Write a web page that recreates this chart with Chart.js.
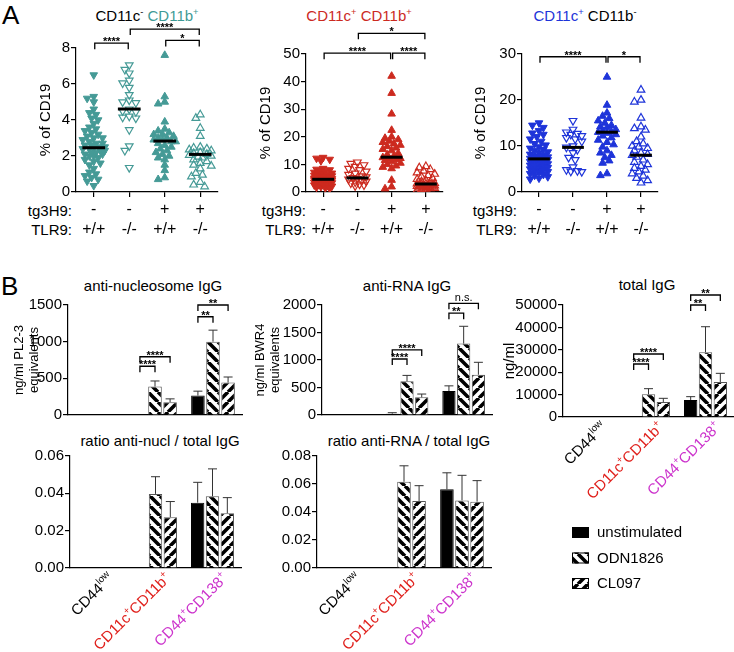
<!DOCTYPE html>
<html lang="en">
<head>
<meta charset="UTF-8">
<title>tg3H9 / TLR9 B cell subsets and IgG</title>
<script src="https://cdn.jsdelivr.net/npm/chart.js"></script>
<style>
  body { margin: 0; background: #fff; font-family: "Liberation Sans", Arial, sans-serif; color: #000; }
  #fig { position: relative; width: 734px; height: 652px; overflow: hidden; }
  .t { position: absolute; white-space: nowrap; line-height: 1; }
  .c { transform: translate(-50%, -50%); }
  .r { transform: translate(-100%, -50%); }
  sup { font-size: 0.62em; line-height: 0; vertical-align: 0.55em; }
</style>
</head>
<body>
<div id="fig">
  <div class="t" style="left:2px; top:2px; font-size:26px;">A</div>
  <div class="t" style="left:1px; top:273px; font-size:26px;">B</div>

  <!-- titres panneau A -->
  <div class="t c" style="left:147px; top:15px; font-size:15px;">CD11c<sup>-</sup> <span style="color:#3e9a95">CD11b<sup>+</sup></span></div>
  <div class="t c" style="left:359px; top:15px; font-size:15px; color:#cc2a1f;">CD11c<sup>+</sup> CD11b<sup>+</sup></div>
  <div class="t c" style="left:585px; top:15px; font-size:15px;"><span style="color:#1e34d9">CD11c<sup>+</sup></span> CD11b<sup>-</sup></div>

  <div class="t r" style="left:72px; top:210px; font-size:15px;">tg3H9:</div>
  <div class="t r" style="left:72px; top:229px; font-size:15px;">TLR9:</div>
  <div class="t r" style="left:306px; top:210px; font-size:15px;">tg3H9:</div>
  <div class="t r" style="left:306px; top:229px; font-size:15px;">TLR9:</div>
  <div class="t r" style="left:517px; top:210px; font-size:15px;">tg3H9:</div>
  <div class="t r" style="left:517px; top:229px; font-size:15px;">TLR9:</div>

  <!-- titres panneau B -->
  <div class="t c" style="left:153px; top:285px; font-size:15px;">anti-nucleosome IgG</div>
  <div class="t c" style="left:407px; top:285px; font-size:15px;">anti-RNA IgG</div>
  <div class="t c" style="left:647px; top:284px; font-size:15px;">total IgG</div>
  <div class="t c" style="left:160px; top:440px; font-size:15px;">ratio anti-nucl / total IgG</div>
  <div class="t c" style="left:409px; top:440px; font-size:15px;">ratio anti-RNA / total IgG</div>
</div>

<script>
// ---------- données A : % of CD19 ----------
const tg3h9 = ['-', '-', '+', '+'];
const tlr9 = ['+/+', '-/-', '+/+', '-/-'];

// CD11c- CD11b+
const dnWt = [6.5, 5.3, 5.2, 5.0, 4.6, 4.4, 4.3, 4.1, 4.0, 3.8, 3.6, 3.5, 3.4, 3.3, 3.2, 3.1, 3.0, 3.0, 2.9, 2.8, 2.7, 2.7, 2.6, 2.6, 2.5, 2.5, 2.45, 2.4, 2.4, 2.3, 2.3, 2.2, 2.2, 2.1, 2.1, 2.0, 2.0, 1.9, 1.8, 1.7, 1.6, 1.5, 1.3, 1.1, 1.0, 0.9, 0.8, 0.7, 0.6, 0.35];
const dnKo = [7.05, 6.8, 6.6, 6.2, 6.05, 5.8, 5.4, 5.1, 5.0, 4.95, 4.6, 4.5, 4.45, 4.2, 4.15, 4.1, 3.45, 2.55, 2.3, 1.35];
const dnTgWt = [7.6, 5.3, 5.0, 4.9, 3.9, 3.5, 3.4, 3.3, 3.2, 3.2, 3.1, 3.0, 3.0, 2.9, 2.9, 2.8, 2.8, 2.7, 2.6, 2.5, 2.4, 2.3, 2.2, 2.1, 2.0, 1.9, 1.8, 1.5, 1.2, 0.8, 0.7];
const dnTgKo = [4.3, 4.1, 3.55, 3.1, 2.5, 2.45, 2.4, 2.35, 2.3, 2.2, 2.15, 2.1, 2.05, 2.0, 1.95, 1.9, 1.8, 1.7, 1.6, 1.5, 1.45, 1.3, 1.05, 0.95, 0.85, 0.55, 0.4, 0.3];
const dnMedian = [2.46, 4.61, 2.83, 2.09];
const dnSig = [{a: 0, b: 1, y: 8.27, text: '****'}, {a: 1, b: 3, y: 9.05, text: '****'}, {a: 2, b: 3, y: 8.42, text: '*'}];

// CD11c+ CD11b+
const dpWt = [12.5, 12.2, 11.8, 11.3, 8.5, 8.2, 8.0, 7.7, 7.4, 7.1, 6.8, 6.6, 6.4, 6.2, 6.0, 5.8, 5.6, 5.5, 5.4, 5.3, 5.2, 5.1, 5.0, 4.9, 4.8, 4.7, 4.6, 4.6, 4.5, 4.5, 4.4, 4.4, 4.3, 4.2, 4.1, 4.0, 3.9, 3.8, 3.7, 3.6, 3.5, 3.4, 3.3, 3.2, 3.1, 3.0, 2.9, 2.8, 2.7, 2.5, 2.3, 2.1, 1.9, 1.7, 1.5, 1.3];
const dpKo = [10.8, 10.3, 9.8, 9.2, 8.5, 8.0, 7.5, 6.8, 6.3, 5.8, 5.4, 5.1, 4.9, 4.6, 4.2, 3.9, 3.6, 3.2, 2.8, 2.5, 2.2];
const dpTgWt = [42, 35.8, 28.3, 22.4, 20, 19.5, 19, 18.5, 18, 17.5, 17, 16.5, 16, 15.5, 15, 14, 13.5, 13, 12.5, 12.2, 12, 11.8, 11.5, 11, 10.5, 10, 9.5, 9, 8.5, 4.3, 1.9, 1.2];
const dpTgKo = [9.3, 8.8, 8.2, 7.6, 7.0, 6.5, 6.0, 5.5, 5.0, 4.6, 4.2, 3.8, 3.5, 3.2, 3.0, 2.9, 2.8, 2.7, 2.6, 2.5, 2.4, 2.3, 2.2, 2.1, 2.0, 1.9, 1.8, 1.7, 1.6, 1.5, 1.4, 1.3, 1.1, 0.9, 0.7];
const dpMedian = [4.6, 5.1, 12.6, 2.9];
const dpSig = [{a: 0, b: 2, y: 50.3, text: '****'}, {a: 2, b: 3, y: 50.3, text: '****'}, {a: 1, b: 3, y: 57.5, text: '*'}];

// CD11c+ CD11b-
const spWt = [15, 14.5, 14, 13.3, 12.8, 12.5, 12.0, 11.5, 11.0, 10.5, 10.2, 9.8, 9.5, 9.2, 9.0, 8.7, 8.5, 8.2, 8.0, 7.8, 7.6, 7.5, 7.3, 7.2, 7.1, 7.0, 6.8, 6.6, 6.5, 6.3, 6.1, 6.0, 5.8, 5.6, 5.5, 5.3, 5.1, 5.0, 4.8, 4.6, 4.4, 4.2, 4.0, 3.8, 3.6, 3.3, 3.0, 2.8];
const spKo = [15.5, 13.6, 13.0, 12.7, 12.5, 12.2, 11.8, 11.5, 11.0, 10.0, 9.7, 9.2, 8.5, 7.5, 7.0, 5.4, 4.8, 4.6, 4.5, 4.4];
const spTgWt = [25, 18.9, 17.2, 16.5, 16.0, 15.5, 15.0, 14.5, 14.2, 14.0, 13.6, 13.3, 13.1, 13.0, 12.8, 12.5, 12.2, 11.8, 11.3, 10.8, 10.3, 9.8, 9.0, 8.5, 8.0, 7.5, 6.8, 6.3, 4.0, 3.6];
const spTgKo = [22.2, 20.0, 19.6, 16.1, 14.2, 13.8, 13.5, 12.0, 11.0, 10.5, 10.0, 9.8, 9.5, 9.0, 8.5, 8.2, 8.0, 7.6, 7.0, 6.5, 6.0, 5.6, 5.2, 4.8, 4.4, 4.0, 3.5, 3.0, 2.5, 2.0];
const spMedian = [7.2, 9.7, 13.0, 8.0];
const spSig = [{a: 0, b: 2, y: 29.4, text: '****'}, {a: 2, b: 3, y: 29.4, text: '*'}];

// ---------- données B : moyennes / SEM par stimulus (lignes) et type cellulaire (colonnes) ----------
const cellTypes = ['CD44low', 'CD11c+CD11b+', 'CD44+CD138+'];
const stimuli = ['unstimulated', 'ODN1826', 'CL097'];

const nuclMean = [[0, 5, 265], [0, 388, 1000], [0, 175, 442]];
const nuclSem = [[0, 0, 60], [0, 76, 157], [0, 45, 76]];
const nuclSig = [{cat: 1, a: 0, b: 2, y: 794, text: '****'}, {cat: 1, a: 0, b: 1, y: 665, text: '****'},
                 {cat: 2, a: 0, b: 2, y: 1500, text: '**'}, {cat: 2, a: 0, b: 1, y: 1340, text: '**'}];

const rnaMean = [[0, 24, 435], [0, 613, 1298], [0, 321, 732]];
const rnaSem = [[0, 18, 95], [0, 107, 315], [0, 60, 226]];
const rnaSig = [{cat: 1, a: 0, b: 2, y: 1184, text: '****'}, {cat: 1, a: 0, b: 1, y: 1018, text: '****'},
                {cat: 2, a: 0, b: 2, y: 2030, text: 'n.s.'}, {cat: 2, a: 0, b: 1, y: 1852, text: '**'}];

const igMean = [[0, 0, 7590], [0, 10120, 28880], [0, 6700, 15620]];
const igSem = [[0, 0, 1490], [0, 2520, 11420], [0, 1640, 3870]];
const igSig = [{cat: 1, a: 0, b: 2, y: 28125, text: '****'}, {cat: 1, a: 0, b: 1, y: 23660, text: '****'},
               {cat: 2, a: 0, b: 2, y: 54460, text: '**'}, {cat: 2, a: 0, b: 1, y: 50000, text: '**'}];

const nuclRatio = [[0, 0, 0.0350], [0, 0.0397, 0.0384], [0, 0.0272, 0.0293]];
const nuclRatioSem = [[0, 0, 0.0109], [0, 0.0092, 0.0147], [0, 0.0084, 0.0084]];
const rnaRatio = [[0, 0, 0.0562], [0, 0.0616, 0.0483], [0, 0.0479, 0.0474]];
const rnaRatioSem = [[0, 0, 0.0118], [0, 0.0114, 0.0179], [0, 0.0109, 0.0150]];

// ---------- rendu ----------
const FONT = '"Liberation Sans", Arial, sans-serif';
Chart.defaults.font.family = FONT;
Chart.defaults.color = '#000';
Chart.defaults.animation = false;
Chart.defaults.plugins.legend.display = false;
Chart.defaults.plugins.tooltip.enabled = false;

// libellés avec exposants
const cellParts = [[['CD44', 0], ['low', 1]], [['CD11c', 0], ['+', 1], ['CD11b', 0], ['+', 1]], [['CD44', 0], ['+', 1], ['CD138', 0], ['+', 1]]];
const cellColors = ['#000', '#e0201c', '#cc33cc'];

function mount(box) {
    const c = document.createElement('canvas');
    c.width = box.w; c.height = box.h;
    c.style.cssText = `position:absolute;left:${box.x}px;top:${box.y}px;width:${box.w}px;height:${box.h}px`;
    document.getElementById('fig').appendChild(c);
    return c;
}

function frame(box, area) {
    return {
        padding: {left: 0, top: area.t - box.y, right: box.x + box.w - area.r, bottom: 0},
        yW: area.l - box.x,
        xH: box.y + box.h - area.b
    };
}

function yAxis(fr, max, step, title, fmt) {
    const twoLines = Array.isArray(title);
    return {
        min: 0, max: max,
        afterBuildTicks: s => { const t = []; for (let v = 0; v <= max + 1e-9; v += step) t.push({value: v}); s.ticks = t; },
        ticks: {font: {size: 15}, color: '#000', padding: 1, callback: fmt || (v => v)},
        grid: {drawOnChartArea: false, tickLength: 5, color: '#000', lineWidth: 1.2},
        border: {color: '#000', width: 1.2},
        title: title ? {display: true, text: title, font: {size: twoLines ? 13 : 15, lineHeight: twoLines ? 1.15 : 1.05},
                        color: '#000', padding: {top: 4, bottom: 0}} : {display: false},
        afterFit: s => { s.width = fr.yW; }
    };
}

function bracket(ctx, x1, x2, py, text) {
    ctx.save();
    ctx.strokeStyle = '#000';
    ctx.lineWidth = 1.3;
    ctx.beginPath();
    ctx.moveTo(x1, py + 6); ctx.lineTo(x1, py); ctx.lineTo(x2, py); ctx.lineTo(x2, py + 6);
    ctx.stroke();
    ctx.fillStyle = '#000';
    ctx.textAlign = 'center';
    ctx.textBaseline = 'alphabetic';
    if (text.indexOf('*') >= 0) {
        ctx.font = 'bold 11px ' + FONT;
        ctx.fillText(text, (x1 + x2) / 2, py + 2);
    } else {
        ctx.font = '11px ' + FONT;
        ctx.fillText(text, (x1 + x2) / 2, py - 2);
    }
    ctx.restore();
}

// disposition en essaim : décalage horizontal calculé à partir des valeurs
function swarm(vals, g, catW, pu) {
    const d = 5.2, step = 2.2, maxOff = catW * 0.32;
    const placed = [];
    const pts = [];
    const order = vals.map((v, i) => i).sort((a, b) => vals[b] - vals[a]);
    order.forEach(i => {
        const py = vals[i] * pu;
        let best = 0, bestGap = -1;
        for (let k = 0; ; k++) {
            const off = (k % 2 ? -1 : 1) * Math.ceil(k / 2) * step;
            if (Math.abs(off) > maxOff) break;
            let gap = Infinity;
            placed.forEach(p => { gap = Math.min(gap, Math.hypot(p[0] - off, p[1] - py)); });
            if (gap >= d) { best = off; break; }
            if (gap > bestGap) { bestGap = gap; best = off; }
        }
        placed.push([best, py]);
        pts[i] = {x: g + best / catW, y: vals[i]};
    });
    return pts;
}

const SHAPES = [{rot: 180, open: false}, {rot: 180, open: true}, {rot: 0, open: false}, {rot: 0, open: true}];

function scatterPanel(box, area, groups, medians, sig, ymax, step, color) {
    const fr = frame(box, area);
    const catW = (area.r - area.l) / 4, pu = (area.b - area.t) / ymax;
    const datasets = groups.map((vals, g) => ({
        data: swarm(vals, g, catW, pu),
        showLine: false,
        pointStyle: 'triangle',
        pointRotation: SHAPES[g].rot,
        pointRadius: 4.4,
        pointBackgroundColor: SHAPES[g].open ? 'rgba(255,255,255,0)' : color,
        pointBorderColor: color,
        pointBorderWidth: SHAPES[g].open ? 1.2 : 1
    }));
    new Chart(mount(box), {
        type: 'scatter',
        data: {datasets},
        options: {
            responsive: false,
            devicePixelRatio: 1,
            layout: {padding: fr.padding},
            scales: {
                x: {
                    type: 'linear', min: -0.5, max: 3.5,
                    afterBuildTicks: s => { s.ticks = [0, 1, 2, 3].map(v => ({value: v})); },
                    ticks: {font: {size: 16, lineHeight: 1.22}, color: '#000', padding: 3, maxRotation: 0, autoSkip: false,
                            callback: v => [tg3h9[v], tlr9[v]]},
                    grid: {drawOnChartArea: false, tickLength: 5, color: '#000', lineWidth: 1.2},
                    border: {color: '#000', width: 1.2},
                    afterFit: s => { s.height = fr.xH; }
                },
                y: yAxis(fr, ymax, step, '% of CD19')
            }
        },
        plugins: [{
            id: 'medians',
            afterDatasetsDraw(chart) {
                const {ctx, scales: {x, y}} = chart;
                ctx.save();
                ctx.strokeStyle = '#000';
                ctx.lineWidth = 3;
                medians.forEach((m, g) => {
                    const py = y.getPixelForValue(m);
                    ctx.beginPath();
                    ctx.moveTo(x.getPixelForValue(g - 0.32), py);
                    ctx.lineTo(x.getPixelForValue(g + 0.32), py);
                    ctx.stroke();
                });
                ctx.restore();
                sig.forEach(s => bracket(ctx, x.getPixelForValue(s.a) + 1, x.getPixelForValue(s.b) - 1, y.getPixelForValue(s.y), s.text));
            }
        }]
    });
}

// motifs hachurés
function stripes(dir) {
    const s = 10;
    const c = document.createElement('canvas');
    c.width = s; c.height = s;
    const g = c.getContext('2d');
    g.fillStyle = '#fff';
    g.fillRect(0, 0, s, s);
    g.strokeStyle = '#000';
    g.lineWidth = 3.6;
    g.beginPath();
    for (let k = -1; k <= 1; k++) {
        if (dir > 0) { g.moveTo(k * s, s); g.lineTo(k * s + s, 0); }
        else { g.moveTo(k * s, 0); g.lineTo(k * s + s, s); }
    }
    g.stroke();
    return document.createElement('canvas').getContext('2d').createPattern(c, 'repeat');
}
const FILLS = ['#000', stripes(-1), stripes(1)];

function richText(ctx, parts, size) {
    let w = 0;
    parts.forEach(p => { ctx.font = (p[1] ? size * 0.65 : size) + 'px ' + FONT; w += ctx.measureText(p[0]).width; });
    let x = -w;
    parts.forEach(p => {
        ctx.font = (p[1] ? size * 0.65 : size) + 'px ' + FONT;
        ctx.fillText(p[0], x, p[1] ? -size * 0.42 : 0);
        x += ctx.measureText(p[0]).width;
    });
}

function barPanel(box, area, means, sems, sig, ymax, step, fmt, yTitle, withLabels, withLegend) {
    const fr = frame(box, area);
    const datasets = stimuli.map((name, d) => ({
        label: name,
        data: means[d],
        backgroundColor: FILLS[d],
        borderColor: d === 0 ? '#000' : '#555',
        borderWidth: 1,
        categoryPercentage: 0.78,
        barPercentage: 0.9
    }));
    const plugins = [{
        id: 'errs',
        afterDatasetsDraw(chart) {
            const {ctx, scales: {y}} = chart;
            ctx.save();
            ctx.strokeStyle = '#333';
            ctx.lineWidth = 1;
            sems.forEach((row, d) => {
                const meta = chart.getDatasetMeta(d);
                row.forEach((e, i) => {
                    if (!e) return;
                    const bar = meta.data[i];
                    const top = y.getPixelForValue(means[d][i] + e);
                    ctx.beginPath();
                    ctx.moveTo(bar.x, bar.y); ctx.lineTo(bar.x, top);
                    ctx.moveTo(bar.x - 4.5, top); ctx.lineTo(bar.x + 4.5, top);
                    ctx.stroke();
                });
            });
            ctx.restore();
            (sig || []).forEach(s => {
                const xa = chart.getDatasetMeta(s.a).data[s.cat].x;
                const xb = chart.getDatasetMeta(s.b).data[s.cat].x;
                bracket(ctx, xa, xb, y.getPixelForValue(s.y), s.text);
            });
        }
    }];
    if (withLabels) plugins.push({
        id: 'cellLabels',
        afterDraw(chart) {
            const {ctx, scales: {x}} = chart;
            cellParts.forEach((parts, i) => {
                ctx.save();
                ctx.translate(x.getPixelForValue(i) + 16, x.top + 11);
                ctx.rotate(-Math.PI / 4);
                ctx.fillStyle = cellColors[i];
                ctx.textBaseline = 'alphabetic';
                richText(ctx, parts, 15);
                ctx.restore();
            });
        }
    });
    if (withLegend) plugins.push({
        id: 'stimLegend',
        afterDraw(chart) {
            const ctx = chart.ctx;
            chart.data.datasets.forEach((ds, i) => {
                const lx = 572 - box.x, ly = 527 + i * 25.5 - box.y;
                ctx.save();
                ctx.fillStyle = ds.backgroundColor;
                ctx.fillRect(lx, ly, 17, 11);
                ctx.strokeStyle = '#000';
                ctx.lineWidth = 1;
                ctx.strokeRect(lx + 0.5, ly + 0.5, 16, 10);
                ctx.fillStyle = '#000';
                ctx.font = '15px ' + FONT;
                ctx.textBaseline = 'middle';
                ctx.fillText(ds.label, lx + 25, ly + 6);
                ctx.restore();
            });
        }
    });
    new Chart(mount(box), {
        type: 'bar',
        data: {labels: cellTypes, datasets},
        options: {
            responsive: false,
            devicePixelRatio: 1,
            layout: {padding: fr.padding},
            scales: {
                x: {
                    grid: {display: false},
                    border: {color: '#000', width: 1.2},
                    ticks: {display: false},
                    afterFit: s => { s.height = fr.xH; }
                },
                y: yAxis(fr, ymax, step, yTitle, fmt)
            }
        },
        plugins
    });
}

// panneau A
scatterPanel({x: 34, y: 18, w: 206, h: 227}, {l: 76, t: 48, r: 218, b: 192},
    [dnWt, dnKo, dnTgWt, dnTgKo], dnMedian, dnSig, 8, 2, '#459a96');
scatterPanel({x: 254, y: 18, w: 226, h: 227}, {l: 306, t: 54, r: 443, b: 192},
    [dpWt, dpKo, dpTgWt, dpTgKo], dpMedian, dpSig, 50, 10, '#cc2a1f');
scatterPanel({x: 469, y: 18, w: 265, h: 227}, {l: 522, t: 54, r: 658, b: 192},
    [spWt, spKo, spTgWt, spTgKo], spMedian, spSig, 30, 10, '#1e34d9');

// panneau B
const plain = v => String(v);
const two = v => v.toFixed(2);
barPanel({x: 8, y: 292, w: 239, h: 133}, {l: 68, t: 305, r: 242, b: 417},
    nuclMean, nuclSem, nuclSig, 1500, 500, plain, ['ng/ml PL2-3', 'equivalents'], false, false);
barPanel({x: 249, y: 288, w: 245, h: 137}, {l: 322, t: 305, r: 492, b: 417},
    rnaMean, rnaSem, rnaSig, 2000, 500, plain, ['ng/ml BWR4', 'equivalents'], false, false);
barPanel({x: 498, y: 284, w: 236, h: 320}, {l: 563, t: 305, r: 734, b: 417},
    igMean, igSem, igSig, 50000, 10000, plain, 'ng/ml', true, true);
barPanel({x: 0, y: 446, w: 245, h: 206}, {l: 70, t: 456, r: 241, b: 568},
    nuclRatio, nuclRatioSem, null, 0.06, 0.02, two, null, true, false);
barPanel({x: 245, y: 446, w: 248, h: 206}, {l: 317, t: 456, r: 491, b: 568},
    rnaRatio, rnaRatioSem, null, 0.08, 0.02, two, null, true, false);
</script>
</body>
</html>
